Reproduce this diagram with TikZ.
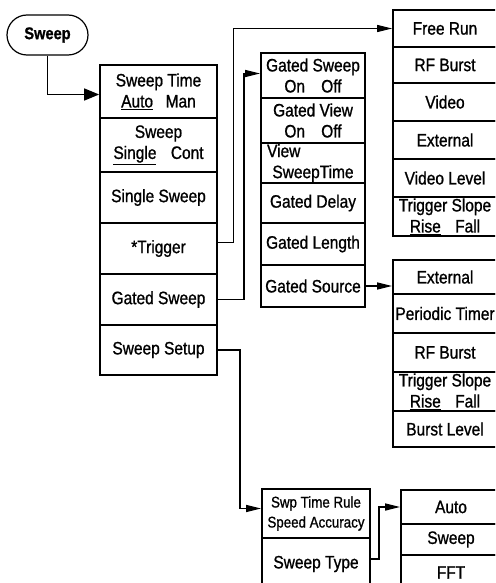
\documentclass[tikz,border=0pt]{standalone}
\usepackage{fontspec}
\setmainfont{Liberation Sans}[FakeStretch=0.86, FakeBold=1.0]
\usetikzlibrary{arrows.meta}

\begin{document}
\begin{tikzpicture}[x=1pt, y=-1pt, font=\fontsize{18}{21}\selectfont,
    cell/.style={draw, line width=1.7pt, inner sep=0pt, align=center},
    link/.style={line width=1.4pt, -{Triangle[length=15pt, width=7pt]}}]
  \useasboundingbox (0,0) rectangle (495,583);
  \clip (0,0) rectangle (495,583);
  \node[draw, line width=1.2pt, rounded corners=20pt, minimum width=81pt, minimum height=40pt,
    font=\fontsize{17}{20}\selectfont\bfseries] (sweep) at (47.5,35) {Sweep};
  % sweep menu
  \foreach \n/\ya/\yb/\t in {swtime/65/118/Sweep Time\\\underline{Auto}\hspace{0.7em}Man,
      swmode/118/172/Sweep\\\underline{Single}\hspace{0.8em}Cont,
      single/172/223/Single Sweep, trig/223/274/*Trigger,
      gsweep/274/325/Gated Sweep, setup/325/375/Sweep Setup} {
    \node[cell, minimum width=117, minimum height=\yb-\ya] (\n) at (158.5, {(\ya+\yb)/2}) {\t};
  }
  % gated sweep menu
  \foreach \n/\ya/\yb/\t in {gson/53/98/Gated Sweep\\On\hspace{0.9em}Off,
      gview/98/143/Gated View\\On\hspace{0.9em}Off,
      vtime/143/183/\makebox[5.1em][l]{View}\\SweepTime,
      gdelay/183/223/Gated Delay, glength/223/265/Gated Length, gsrc/265/307/Gated Source} {
    \node[cell, minimum width=104, minimum height=\yb-\ya] (\n) at (313, {(\ya+\yb)/2}) {\t};
  }
  % trigger menu
  \foreach \n/\ya/\yb/\t in {frun/10/47/Free Run, rfb/47/83/RF Burst, video/83/121/Video,
      ext/121/159/External, vlevel/159/197/Video Level,
      tslope/197/236/Trigger Slope\\\underline{Rise}\hspace{0.8em}Fall} {
    \node[cell, minimum width=104, minimum height=\yb-\ya] (\n) at (445, {(\ya+\yb)/2}) {\t};
  }
  % gate source menu
  \foreach \n/\ya/\yb/\t in {gext/260/294/External, ptimer/294/333/Periodic Timer,
      grfb/333/372/RF Burst, gslope/372/411/Trigger Slope\\\underline{Rise}\hspace{0.8em}Fall,
      blevel/411/447/Burst Level} {
    \node[cell, minimum width=104, minimum height=\yb-\ya] (\n) at (445, {(\ya+\yb)/2}) {\t};
  }
  % sweep setup menu
  \node[cell, minimum width=108, minimum height=49, font=\fontsize{15.5}{20}\selectfont]
    (swprule) at (316, 513.5) {Swp Time Rule\\Speed Accuracy};
  \node[cell, minimum width=108, minimum height=52] (swtype) at (316, 564) {Sweep Type};
  \foreach \n/\ya/\yb/\t in {auto/490/524/Auto, styp/524/555/Sweep, fft/555/590/FFT} {
    \node[cell, minimum width=100, minimum height=\yb-\ya] (\n) at (451, {(\ya+\yb)/2}) {\t};
  }
  % connectors
  \draw[link, -{Triangle[length=15pt, width=12pt]}] (sweep.south) |- ([yshift=-3]swtime.west);
  \draw[link, line width=1pt] ([yshift=6]trig.east) -- ++(16,0) |- (frun.west);
  \draw[link] (gsweep.east) -- ++(26,0) |- ([yshift=2]gson.west);
  \draw[link] (setup.east) -- ++(22,0) |- ([yshift=5]swprule.west);
  \draw[link] (gsrc.east) -- (gsrc.east -| gext.west);
  \draw[link] ([yshift=5]swtype.east) -- ++(8,0) |- (auto.west);
\end{tikzpicture}
\end{document}
